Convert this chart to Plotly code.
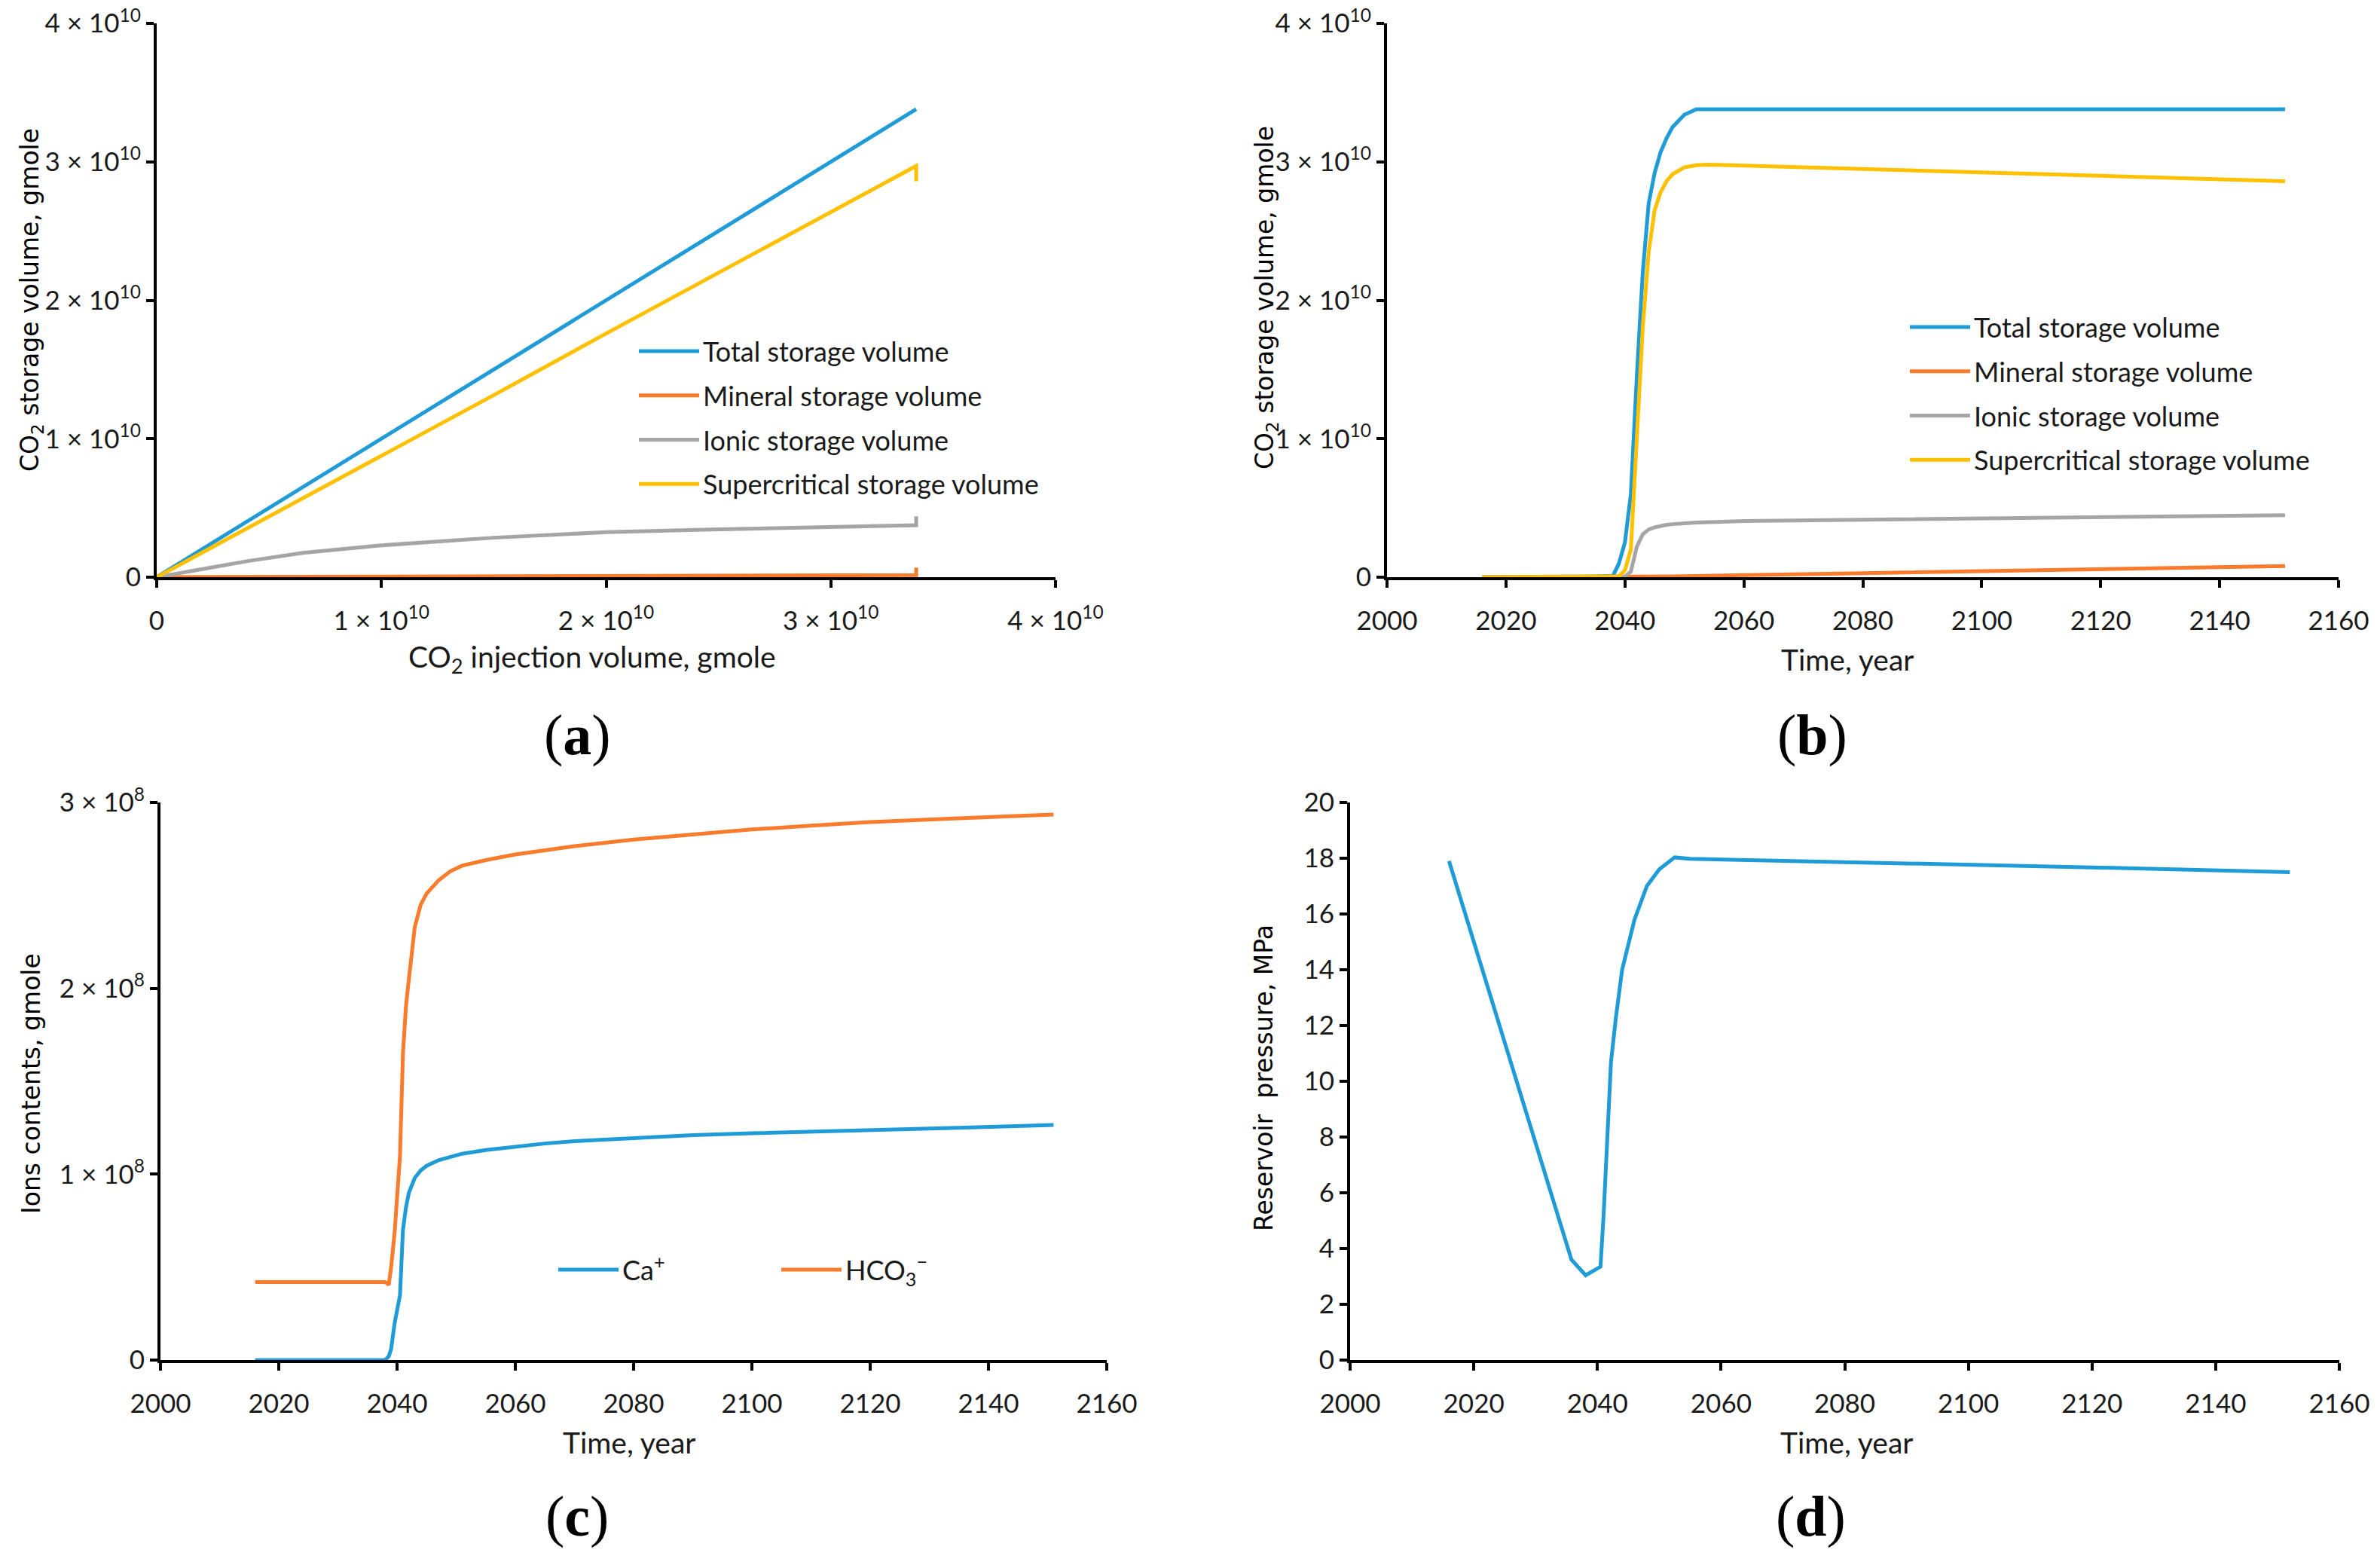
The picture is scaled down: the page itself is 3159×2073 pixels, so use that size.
import plotly.graph_objects as go

W, H = 3159, 2073

# ---- data -------------------------------------------------------------
# (a) storage vs injection, both in units of 1e10 gmole
inj_a = [0, 0.2, 0.4, 0.65, 1.0, 1.5, 2.0, 2.5, 3.0, 3.38, 3.38]
total_a = [0, 0.2, 0.4, 0.65, 1.0, 1.5, 2.0, 2.5, 3.0, 3.38, 3.38]
mineral_a = [0, 0.001, 0.002, 0.003, 0.005, 0.007, 0.009, 0.011, 0.013, 0.015, 0.07]
ionic_a = [0, 0.06, 0.115, 0.175, 0.23, 0.285, 0.325, 0.345, 0.365, 0.375, 0.44]
super_a = [0, 0.175, 0.35, 0.57, 0.875, 1.315, 1.76, 2.2, 2.64, 2.97, 2.86]

# (b) storage vs time, units of 1e10 gmole
years_b = [2016, 2025, 2035, 2038, 2039, 2040, 2041, 2042, 2043, 2044, 2045,
           2046, 2047, 2048, 2050, 2052, 2054, 2060, 2080, 2100, 2120, 2151]
total_b = [0, 0, 0.005, 0.01, 0.1, 0.25, 0.6, 1.45, 2.2, 2.7, 2.92,
           3.07, 3.17, 3.25, 3.34, 3.38, 3.38, 3.38, 3.38, 3.38, 3.38, 3.38]
mineral_b = [0, 0, 0, 0, 0, 0, 0.001, 0.002, 0.003, 0.004, 0.004,
             0.005, 0.005, 0.006, 0.007, 0.009, 0.01, 0.015, 0.029, 0.043, 0.058, 0.08]
ionic_b = [0, 0, 0, 0, 0, 0.005, 0.04, 0.22, 0.31, 0.345, 0.36,
           0.37, 0.378, 0.383, 0.39, 0.394, 0.397, 0.405, 0.415, 0.425, 0.435, 0.448]
super_b = [0, 0, 0, 0, 0.005, 0.05, 0.2, 1.0, 1.8, 2.35, 2.65,
           2.78, 2.86, 2.91, 2.96, 2.975, 2.98, 2.973, 2.948, 2.923, 2.897, 2.86]

# (c) ion contents, units of 1e8 gmole
years_c = [2016, 2025, 2035, 2038, 2038.6, 2039, 2039.6, 2040, 2040.5, 2041, 2041.5,
           2042, 2043, 2044, 2045, 2047, 2049, 2051, 2055, 2060, 2065, 2070,
           2080, 2090, 2100, 2110, 2120, 2135, 2151]
ca = [0, 0, 0, 0, 0.02, 0.06, 0.2, 0.28, 0.35, 0.7, 0.82,
      0.9, 0.98, 1.02, 1.045, 1.075, 1.095, 1.11, 1.13, 1.15, 1.165, 1.178,
      1.195, 1.21, 1.22, 1.23, 1.24, 1.25, 1.265]
hco3 = [0.42, 0.42, 0.42, 0.42, 0.405, 0.5, 0.69, 0.9, 1.1, 1.65, 1.9,
        2.05, 2.33, 2.45, 2.51, 2.58, 2.63, 2.66, 2.69, 2.72, 2.745, 2.765,
        2.8, 2.83, 2.855, 2.875, 2.895, 2.915, 2.935]

# (d) reservoir pressure, MPa
years_d = [2016, 2020, 2025, 2030, 2035.8, 2038.1, 2040.5, 2041, 2041.6, 2042.2, 2043,
           2044, 2046, 2048, 2050, 2052.5, 2055, 2080, 2100, 2120, 2152]
pressure = [17.9, 15.0, 11.4, 7.8, 3.6, 3.04, 3.35, 5.2, 8.2, 10.7, 12.3,
            14.0, 15.8, 17.0, 17.6, 18.03, 17.98, 17.87, 17.77, 17.67, 17.5]

names_storage = ["Total storage volume", "Mineral storage volume",
                 "Ionic storage volume", "Supercritical storage volume"]
colors = ["#1f9bd7", "#f97b2b", "#a5a5a5", "#ffc000"]

e10_ticks = [0, 1, 2, 3, 4]
e10_text = ["0", "1 × 10<sup>10</sup>", "2 × 10<sup>10</sup>",
            "3 × 10<sup>10</sup>", "4 × 10<sup>10</sup>"]
e8_ticks = [0, 1, 2, 3]
e8_text = ["0", "1 × 10<sup>8</sup>", "2 × 10<sup>8</sup>", "3 × 10<sup>8</sup>"]

# ---- figure -----------------------------------------------------------
LW = 5
fig = go.Figure()

for name, col, ys in zip(names_storage, colors, [total_a, mineral_a, ionic_a, super_a]):
    fig.add_trace(go.Scatter(x=inj_a, y=ys, mode="lines", name=name,
                             line=dict(color=col, width=LW),
                             xaxis="x", yaxis="y", legend="legend",
                             legendgroup="a" + name))

for name, col, ys in zip(names_storage, colors, [total_b, mineral_b, ionic_b, super_b]):
    fig.add_trace(go.Scatter(x=years_b, y=ys, mode="lines", name=name,
                             line=dict(color=col, width=LW),
                             xaxis="x2", yaxis="y2", legend="legend2",
                             legendgroup="b" + name))

fig.add_trace(go.Scatter(x=years_c, y=ca, mode="lines", name="Ca<sup>+</sup>",
                         line=dict(color=colors[0], width=LW),
                         xaxis="x3", yaxis="y3", legend="legend3"))
fig.add_trace(go.Scatter(x=years_c, y=hco3, mode="lines", name="HCO<sub>3</sub><sup>−</sup>",
                         line=dict(color=colors[1], width=LW),
                         xaxis="x3", yaxis="y3", legend="legend3"))

fig.add_trace(go.Scatter(x=years_d, y=pressure, mode="lines", showlegend=False,
                         line=dict(color=colors[0], width=LW),
                         xaxis="x4", yaxis="y4"))

tick_font = dict(family="Lato, Liberation Sans", size=35, color="#1a1a1a")
axis_style = dict(showline=True, linecolor="black", linewidth=4, mirror=False,
                  ticks="outside", ticklen=10, tickwidth=4, tickcolor="black",
                  showgrid=False, zeroline=False, tickfont=tick_font)


def dom_x(x0, x1):
    return [x0 / W, x1 / W]


def dom_y(top, bottom):
    return [1 - bottom / H, 1 - top / H]


fig.update_layout(
    width=W, height=H,
    margin=dict(l=0, r=0, t=0, b=0, autoexpand=False),
    paper_bgcolor="white", plot_bgcolor="white",
    xaxis=dict(axis_style, domain=dom_x(208, 1401), range=[0, 4],
               tickvals=e10_ticks, ticktext=e10_text, anchor="y", ticklabelstandoff=14),
    yaxis=dict(axis_style, domain=dom_y(31, 766), range=[0, 4],
               tickvals=e10_ticks, ticktext=e10_text, anchor="x"),
    xaxis2=dict(axis_style, domain=dom_x(1841, 3104), range=[2000, 2160],
                dtick=20, anchor="y2", ticklabelstandoff=14),
    yaxis2=dict(axis_style, domain=dom_y(31, 766), range=[0, 4],
                tickvals=e10_ticks, ticktext=e10_text, anchor="x2"),
    xaxis3=dict(axis_style, domain=dom_x(213, 1469), range=[2000, 2160],
                dtick=20, anchor="y3", ticklabelstandoff=14),
    yaxis3=dict(axis_style, domain=dom_y(1065, 1805), range=[0, 3],
                tickvals=e8_ticks, ticktext=e8_text, anchor="x3"),
    xaxis4=dict(axis_style, domain=dom_x(1792, 3105), range=[2000, 2160],
                dtick=20, anchor="y4", ticklabelstandoff=14),
    yaxis4=dict(axis_style, domain=dom_y(1065, 1805), range=[0, 20],
                dtick=2, anchor="x4"),
)

legend_font = dict(family="Lato, Liberation Sans", size=36, color="#1a1a1a")
fig.update_layout(
    legend=dict(x=843 / W, y=1 - 436 / H, xanchor="left", yanchor="top",
                font=legend_font, bgcolor="rgba(0,0,0,0)", tracegroupgap=9,
                itemwidth=80),
    legend2=dict(x=2530 / W, y=1 - 404 / H, xanchor="left", yanchor="top",
                 font=legend_font, bgcolor="rgba(0,0,0,0)", tracegroupgap=9,
                 itemwidth=80),
    legend3=dict(x=736 / W, y=1 - 1685 / H, xanchor="left", yanchor="middle",
                 orientation="h", font=legend_font, bgcolor="rgba(0,0,0,0)",
                 entrywidth=201, itemwidth=80),
)

title_font = dict(family="Lato, Liberation Sans", size=39, color="#1a1a1a")
ytitle_font = dict(family="DejaVu Sans, Verdana", size=33, color="black")
label_font = dict(family="Liberation Serif, Times New Roman", size=76, color="black")

annotations = [
    # x-axis titles
    (786, 874, "CO<sub>2</sub> injection volume, gmole", title_font, 0),
    (2452, 875, "Time, year", title_font, 0),
    (835, 1914, "Time, year", title_font, 0),
    (2451, 1914, "Time, year", title_font, 0),
    # y-axis titles
    (42, 398, "CO<sub>2</sub> storage volume, gmole", ytitle_font, -90),
    (1680, 395, "CO<sub>2</sub> storage volume, gmole", ytitle_font, -90),
    (41, 1438, "Ions contents, gmole", ytitle_font, -90),
    (1677, 1431, "Reservoir  pressure, MPa", ytitle_font, -90),
    # panel labels
    (766, 975, "(<b>a</b>)", label_font, 0),
    (2405, 975, "(<b>b</b>)", label_font, 0),
    (766, 2012, "(<b>c</b>)", label_font, 0),
    (2403, 2012, "(<b>d</b>)", label_font, 0),
]
for px_x, px_y, txt, fnt, ang in annotations:
    fig.add_annotation(x=px_x / W, y=1 - px_y / H, xref="paper", yref="paper",
                       text=txt, showarrow=False, font=fnt, textangle=ang,
                       xanchor="center", yanchor="middle")

fig.write_html("out.html", config={"displayModeBar": False},
               post_script="document.body.style.margin='0';")
